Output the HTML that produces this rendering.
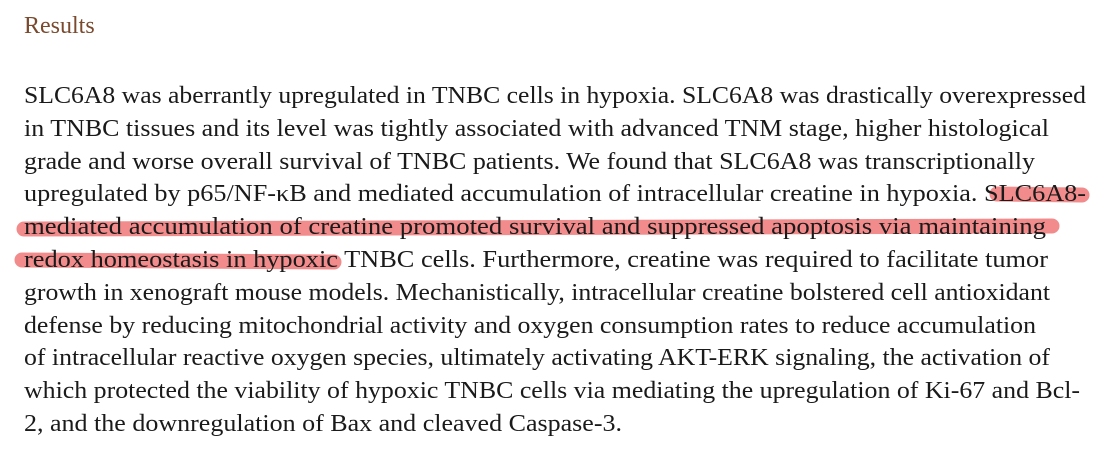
<!DOCTYPE html>
<html><head><meta charset="utf-8"><style>
html,body{margin:0;padding:0;background:#fff;}
svg{display:block;}
text{font-family:"Liberation Serif",serif;font-size:24px;fill:#1a1a1a;}
</style></head><body>
<svg width="1102" height="469">
  <g stroke="#f07878" stroke-opacity="0.85" stroke-width="15" stroke-linecap="round" fill="none">
    <line x1="997" y1="194" x2="1082" y2="195"/>
    <line x1="24" y1="229" x2="1052" y2="226"/>
    <line x1="22" y1="260" x2="334" y2="262"/>
  </g>
  <text x="24" y="33" style="fill:#7a4a2e;font-size:24px">Results</text>
  <g>
    <text x="24" y="103" textLength="1062" lengthAdjust="spacingAndGlyphs">SLC6A8 was aberrantly upregulated in TNBC cells in hypoxia. SLC6A8 was drastically overexpressed</text>
    <text x="24" y="136" textLength="1025" lengthAdjust="spacingAndGlyphs">in TNBC tissues and its level was tightly associated with advanced TNM stage, higher histological</text>
    <text x="24" y="169" textLength="1011" lengthAdjust="spacingAndGlyphs">grade and worse overall survival of TNBC patients. We found that SLC6A8 was transcriptionally</text>
    <text x="24" y="201" textLength="1062" lengthAdjust="spacingAndGlyphs">upregulated by p65/NF-κB and mediated accumulation of intracellular creatine in hypoxia. SLC6A8-</text>
    <text x="24" y="234" textLength="1022" lengthAdjust="spacingAndGlyphs">mediated accumulation of creatine promoted survival and suppressed apoptosis via maintaining</text>
    <text x="24" y="267" textLength="1024" lengthAdjust="spacingAndGlyphs">redox homeostasis in hypoxic TNBC cells. Furthermore, creatine was required to facilitate tumor</text>
    <text x="24" y="300" textLength="1026" lengthAdjust="spacingAndGlyphs">growth in xenograft mouse models. Mechanistically, intracellular creatine bolstered cell antioxidant</text>
    <text x="24" y="333" textLength="1012" lengthAdjust="spacingAndGlyphs">defense by reducing mitochondrial activity and oxygen consumption rates to reduce accumulation</text>
    <text x="24" y="365" textLength="1026" lengthAdjust="spacingAndGlyphs">of intracellular reactive oxygen species, ultimately activating AKT-ERK signaling, the activation of</text>
    <text x="24" y="398" textLength="1056" lengthAdjust="spacingAndGlyphs">which protected the viability of hypoxic TNBC cells via mediating the upregulation of Ki-67 and Bcl-</text>
    <text x="24" y="431" textLength="598" lengthAdjust="spacingAndGlyphs">2, and the downregulation of Bax and cleaved Caspase-3.</text>
  </g>
</svg>
</body></html>
